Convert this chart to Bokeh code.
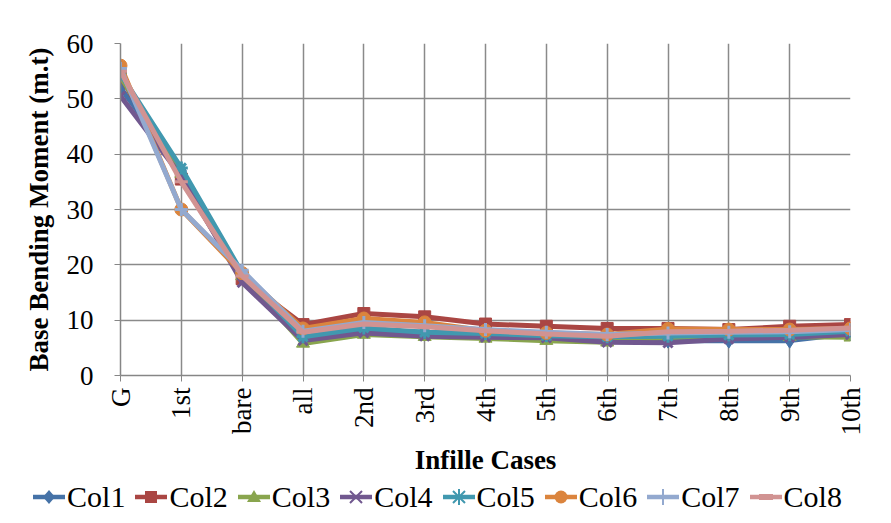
import math
from bokeh.plotting import figure
from bokeh.layouts import column
from bokeh.models import Range1d, FixedTicker, Div
from bokeh.embed import file_html
from bokeh.resources import INLINE

cases = ["G", "1st", "bare", "all", "2nd", "3rd", "4th", "5th", "6th", "7th", "8th", "9th", "10th"]
col1 = [52.0, 37.0, 18.0, 6.6, 8.2, 7.8, 7.5, 7.2, 6.8, 6.3, 6.3, 6.3, 7.6]
col2 = [54.0, 35.5, 17.5, 9.2, 11.2, 10.6, 9.3, 8.9, 8.5, 8.5, 8.3, 8.9, 9.2]
col3 = [54.0, 36.5, 18.0, 5.8, 7.4, 7.0, 6.7, 6.3, 6.0, 6.9, 7.0, 7.0, 6.9]
col4 = [50.5, 36.0, 16.8, 6.3, 7.7, 7.1, 6.9, 6.8, 6.0, 5.9, 6.6, 6.9, 7.4]
col5 = [54.5, 37.5, 18.5, 7.0, 8.6, 7.8, 7.6, 7.2, 7.0, 7.1, 7.3, 7.4, 8.0]
col6 = [56.0, 30.0, 18.5, 8.5, 10.3, 9.6, 8.1, 7.7, 7.4, 8.4, 8.3, 8.3, 8.5]
col7 = [55.5, 30.0, 19.0, 8.0, 9.6, 9.0, 8.3, 7.8, 7.4, 7.7, 7.8, 7.9, 8.3]
col8 = [55.0, 35.0, 18.0, 7.8, 9.3, 8.8, 8.1, 7.5, 7.1, 7.9, 8.0, 8.2, 8.6]

series_names = ["Col1", "Col2", "Col3", "Col4", "Col5", "Col6", "Col7", "Col8"]
series_values = [col1, col2, col3, col4, col5, col6, col7, col8]
colors = ["#4572A7", "#AA4643", "#89A54E", "#71588F", "#4198AF", "#DB843D", "#93A9CF", "#D19392"]
markers = ["diamond", "square", "triangle", "x", "asterisk", "circle", "cross", "dash"]
msizes = [15, 12, 13, 13, 13, 13, 13, 13]

y_ticks = [0, 10, 20, 30, 40, 50, 60]
FONT = "Liberation Serif"

p = figure(width=875, height=477, output_backend="svg", toolbar_location=None,
           x_range=Range1d(0, len(cases) - 1), y_range=Range1d(0, 60),
           min_border_left=120, min_border_right=25, min_border_top=43, min_border_bottom=99)
p.outline_line_color = None
p.background_fill_color = "white"
p.border_fill_color = "white"

x = list(range(len(cases)))
for name, vals, c, m, s in zip(series_names, series_values, colors, markers, msizes):
    p.line(x, vals, line_color=c, line_width=5)
    lw = 3 if m in ("x", "asterisk", "cross", "dash") else 1
    p.scatter(x, vals, marker=m, size=s, fill_color=c, line_color=c, line_width=lw)

p.xaxis.ticker = FixedTicker(ticks=x)
p.xaxis.major_label_overrides = {i: c for i, c in enumerate(cases)}
p.xaxis.major_label_orientation = math.pi / 2
p.yaxis.ticker = FixedTicker(ticks=y_ticks)

for ax in (p.xaxis, p.yaxis):
    ax.axis_line_color = "#868686"
    ax.axis_line_width = 1.5
    ax.major_tick_line_color = "#868686"
    ax.major_tick_out = 6
    ax.major_tick_in = 0
    ax.minor_tick_line_color = None
    ax.major_label_text_font = FONT
    ax.major_label_text_font_size = "27px"
    ax.major_label_text_color = "black"
    ax.axis_label_text_font = FONT
    ax.axis_label_text_font_size = "27px"
    ax.axis_label_text_font_style = "bold"
    ax.axis_label_text_color = "black"

p.xaxis.axis_label = "Infille Cases"
p.yaxis.axis_label = "Base Bending Moment (m.t)"
p.yaxis.major_label_standoff = 21
p.xaxis.major_label_standoff = 6
p.xaxis.axis_label_standoff = 6
p.yaxis.axis_label_standoff = 10

p.xgrid.ticker = FixedTicker(ticks=x)
p.ygrid.ticker = FixedTicker(ticks=y_ticks)
for g in (p.xgrid, p.ygrid):
    g.grid_line_color = "#8a8a8a"
    g.grid_line_width = 1.5


# legend strip (inline svg swatches + real text)
def swatch(color, marker):
    w, h, cx, cy = 32, 22, 16, 11
    parts = [f'<line x1="0" y1="{cy}" x2="{w}" y2="{cy}" stroke="{color}" stroke-width="4.5"/>']
    if marker == "diamond":
        parts.append(f'<polygon points="{cx},{cy-7} {cx+6},{cy} {cx},{cy+7} {cx-6},{cy}" fill="{color}"/>')
    elif marker == "square":
        parts.append(f'<rect x="{cx-6}" y="{cy-6}" width="12" height="12" fill="{color}"/>')
    elif marker == "triangle":
        parts.append(f'<polygon points="{cx},{cy-7} {cx+7},{cy+5} {cx-7},{cy+5}" fill="{color}"/>')
    elif marker == "x":
        parts.append(f'<path d="M{cx-6},{cy-6} L{cx+6},{cy+6} M{cx-6},{cy+6} L{cx+6},{cy-6}" stroke="{color}" stroke-width="2"/>')
    elif marker == "asterisk":
        parts.append(f'<path d="M{cx-6},{cy-6} L{cx+6},{cy+6} M{cx-6},{cy+6} L{cx+6},{cy-6} M{cx},{cy-8} L{cx},{cy+8}" stroke="{color}" stroke-width="2"/>')
    elif marker == "circle":
        parts.append(f'<circle cx="{cx}" cy="{cy}" r="6.5" fill="{color}"/>')
    elif marker == "cross":
        parts.append(f'<path d="M{cx},{cy-8} L{cx},{cy+8}" stroke="{color}" stroke-width="2"/>')
    elif marker == "dash":
        parts.append(f'<path d="M{cx-7},{cy} L{cx+7},{cy}" stroke="{color}" stroke-width="6"/>')
    return (f'<svg width="{w}" height="{h}" style="vertical-align:middle;">' + "".join(parts) + "</svg>")


SERIF_CSS = "font-family:&quot;Liberation Serif&quot;,&quot;Times New Roman&quot;,serif !important;"
item_html = []
for name, c, m in zip(series_names, colors, markers):
    item_html.append(
        f'<span style="display:inline-flex;align-items:center;margin:0 5px;">{swatch(c, m)}'
        f'<span style="margin-left:2px;{SERIF_CSS}">{name}</span></span>')

legend_div = Div(
    text=(f'<div style="width:875px;display:flex;justify-content:center;align-items:center;{SERIF_CSS}'
          'font-size:30px;line-height:30px;color:black;white-space:nowrap;">'
          + "".join(item_html) + "</div>"),
    width=875, height=30, margin=0,
    styles={"background-color": "white", "font-family": "'Liberation Serif', serif",
            "font-size": "30px"})

layout = column(p, legend_div, spacing=0)
open("out.html", "w").write(file_html(layout, INLINE))
